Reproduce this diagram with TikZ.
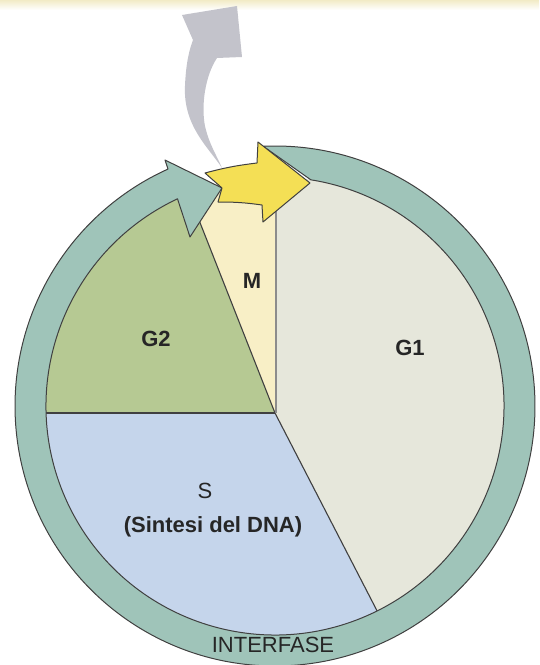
\documentclass[tikz,border=0pt]{standalone}
\usepackage{fontspec}
\setmainfont{Liberation Sans}
\usepackage{tikz}
\usetikzlibrary{shapes,arrows,positioning}
\definecolor{ringcol}{HTML}{9FC4B9}
\definecolor{gonecol}{HTML}{E6E7DB}
\definecolor{scol}{HTML}{C5D5EB}
\definecolor{gtwocol}{HTML}{B6C993}
\definecolor{mcol}{HTML}{F8EFC6}
\definecolor{yelcol}{HTML}{F4DF55}
\definecolor{greycol}{HTML}{C3C3CB}
\definecolor{bandcol}{HTML}{F2EBC6}
\tikzstyle{phase} = [font=\fontsize{22}{26}\selectfont, text=black!85, inner sep=0pt]
\tikzstyle{bphase} = [phase, font=\fontsize{22}{26}\selectfont\bfseries]
\tikzstyle{divider} = [draw=black!75, line width=1.1pt]
\tikzstyle{outline} = [draw=black!75, line width=1pt, line join=round]

\begin{document}
\begin{tikzpicture}[x=1pt, y=1pt]
			\useasboundingbox (-275,-259) rectangle (264,406);
			\shade [top color=bandcol, bottom color=white] (-275,396) rectangle (264,406);
			\coordinate (p) at (0,-7);
			
			% settori del ciclo
			\begin{scope}
				\clip (0,0) circle (229);
				\fill [gonecol] (p) -- (0,300) -- (300,300) -- (300,-400) -- (183.4,-362.5) -- cycle;
				\fill [scol] (p) -- (183.4,-362.5) -- (-300,-400) -- (-300,-7) -- cycle;
				\fill [gtwocol] (p) -- (-300,-7) -- (-300,365.2) -- (-146.6,365.2) -- cycle;
				\fill [mcol] (p) -- (-146.6,365.2) -- (0,365.2) -- cycle;
				\path [divider] (p) -- (183.4,-362.5);
				\path [divider] (p) -- (-300,-7);
				\path [divider] (p) -- (-146.6,365.2);
				\path [draw=black!45, line width=2.5pt] (1,-7) -- (1,300);
			\end{scope}
			
			% anello interfase
			\path [outline, fill=ringcol] (92.6:260) arc [start angle=92.6, end angle=-245.7, radius=260]
				-- (-110,246) -- (-53,218) -- (-85,169)
				-- (-244.8:229) arc [start angle=-244.8, end angle=81, radius=229] -- cycle;
			
			% freccia grigia
			\fill [greycol] (-53,238) .. controls (-66,258) and (-92,280) .. (-90,320)
				.. controls (-89,345) and (-85,358) .. (-82,366) -- (-93,391) -- (-38,400) -- (-33,349) -- (-58,348)
				.. controls (-70,330) and (-74,300) .. (-70,280) .. controls (-66,262) and (-58,250) .. cycle;
			
			% freccia gialla
			\path [outline, fill=yelcol] (-70,233) to [bend left=4] (-18,243) -- (-17,264) -- (35,223) -- (-12,184)
				-- (-13,201) to [bend right=4] (-57,204) -- (-53,218) -- cycle;
			
			\node [bphase] (m) at (-23,125) {M};
			\node [bphase] (g2) at (-119,67) {G2};
			\node [bphase] (g1) at (135,58) {G1};
			\node [phase] (s) at (-70,-85) {S};
			\node [bphase] (sdna) at (-62,-121) {(Sintesi del DNA)};
			\node [phase] (interfase) at (-2,-239) {INTERFASE};
		\end{tikzpicture}
\end{document}
